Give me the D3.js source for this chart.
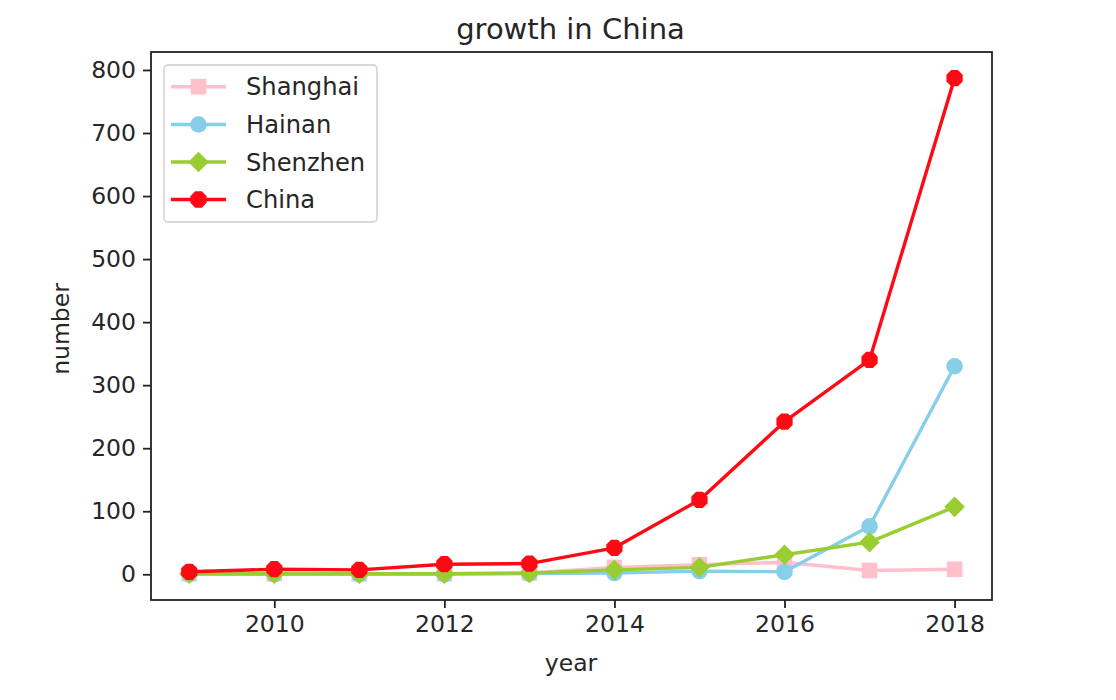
<!DOCTYPE html>
<html lang="en">
<head>
<meta charset="UTF-8">
<title>growth in China</title>
<script src="https://d3js.org/d3.v7.min.js"></script>
<style>
  body { margin: 0; background: #fff; }
  text { font-family: "DejaVu Sans", sans-serif; fill: #262626; }
</style>
</head>
<body>
<svg id="chart" width="1116" height="700"></svg>
<script>
// data
const years = [2009, 2010, 2011, 2012, 2013, 2014, 2015, 2016, 2017, 2018];
const shanghai = [1, 1, 1, 1, 2, 11, 15, 19, 6, 8];
const hainan = [0, 0, 0, 0, 1, 2, 5, 4, 76, 330];
const shenzhen = [1, 1, 1, 1, 2, 7, 11, 31, 51, 107];
const china = [4, 8, 7, 16, 17, 42, 118, 242, 340, 787];
const xTicks = [2010, 2012, 2014, 2016, 2018];
const yTicks = [0, 100, 200, 300, 400, 500, 600, 700, 800];

const series = [
  { name: "Shanghai", values: shanghai, color: "#ffc0cb", marker: "square" },
  { name: "Hainan", values: hainan, color: "#87ceeb", marker: "circle" },
  { name: "Shenzhen", values: shenzhen, color: "#9acd32", marker: "diamond" },
  { name: "China", values: china, color: "#ff0a14", marker: "octagon" }
];

const svg = d3.select("#chart");
const plotL = 151, plotR = 992, plotT = 52, plotB = 600;

const x = d3.scaleLinear().domain([2008.55, 2018.44]).range([plotL, plotR]);
const y = d3.scaleLinear().domain([-40.8, 828.5]).range([plotB, plotT]);

// marker shapes
function markerPath(type) {
  if (type === "square") return "M-7.8,-7.8H7.8V7.8H-7.8Z";
  if (type === "diamond") return "M0,-10.3L10.3,0L0,10.3L-10.3,0Z";
  if (type === "octagon") {
    const r = 8.8, pts = [];
    for (let i = 0; i < 8; i++) {
      const a = Math.PI / 8 + i * Math.PI / 4;
      pts.push([r * Math.cos(a), r * Math.sin(a)]);
    }
    return "M" + pts.map(p => p.join(",")).join("L") + "Z";
  }
  return d3.symbol().type(d3.symbolCircle).size(Math.PI * 8.3 * 8.3)();
}

// lines + markers
const line = d3.line().x((d, i) => x(years[i])).y(d => y(d));
series.forEach(s => {
  const g = svg.append("g");
  g.append("path")
    .attr("d", line(s.values))
    .attr("fill", "none")
    .attr("stroke", s.color)
    .attr("stroke-width", 3.4)
    .attr("stroke-linejoin", "round");
  g.selectAll("path.mk")
    .data(s.values)
    .enter().append("path")
    .attr("class", "mk")
    .attr("d", markerPath(s.marker))
    .attr("transform", (d, i) => `translate(${x(years[i])},${y(d)})`)
    .attr("fill", s.color);
});

// axes
const xAxis = d3.axisBottom(x).tickValues(xTicks).tickFormat(d3.format("d")).tickSize(8).tickPadding(7);
const yAxis = d3.axisLeft(y).tickValues(yTicks).tickSize(8).tickPadding(7);

const gx = svg.append("g").attr("transform", `translate(0,${plotB})`).call(xAxis);
const gy = svg.append("g").attr("transform", `translate(${plotL},0)`).call(yAxis);
[gx, gy].forEach(g => {
  g.select(".domain").remove();
  g.selectAll("line").attr("stroke", "#222").attr("stroke-width", 1.8);
  g.selectAll("text").style("font-size", "23.5px").attr("fill", "#262626")
    .style("font-family", "'DejaVu Sans', sans-serif");
});

// frame
svg.append("rect")
  .attr("x", plotL).attr("y", plotT)
  .attr("width", plotR - plotL).attr("height", plotB - plotT)
  .attr("fill", "none").attr("stroke", "#222").attr("stroke-width", 1.8);

// title and labels
svg.append("text").attr("x", 570.5).attr("y", 38.5).attr("text-anchor", "middle")
  .style("font-size", "29px").text("growth in China");
svg.append("text").attr("x", 571).attr("y", 671).attr("text-anchor", "middle")
  .style("font-size", "23.5px").text("year");
svg.append("text").attr("transform", "translate(69,329) rotate(-90)").attr("text-anchor", "middle")
  .style("font-size", "23.5px").text("number");

// legend
const legend = svg.append("g");
legend.append("rect")
  .attr("x", 164).attr("y", 65).attr("width", 213).attr("height", 157)
  .attr("rx", 4).attr("fill", "#fff").attr("fill-opacity", 0.8)
  .attr("stroke", "#d9d9d9").attr("stroke-width", 1.8);
const rowY = [86.7, 124.5, 162, 199.5];
series.forEach((s, i) => {
  const row = legend.append("g").attr("transform", `translate(0,${rowY[i]})`);
  row.append("line").attr("x1", 171).attr("x2", 226).attr("y1", 0).attr("y2", 0)
    .attr("stroke", s.color).attr("stroke-width", 3.4);
  row.append("path").attr("d", markerPath(s.marker))
    .attr("transform", "translate(198.5,0)").attr("fill", s.color);
  row.append("text").attr("x", 246).attr("y", 8.5).style("font-size", "24.2px").text(s.name);
});
</script>
</body>
</html>
